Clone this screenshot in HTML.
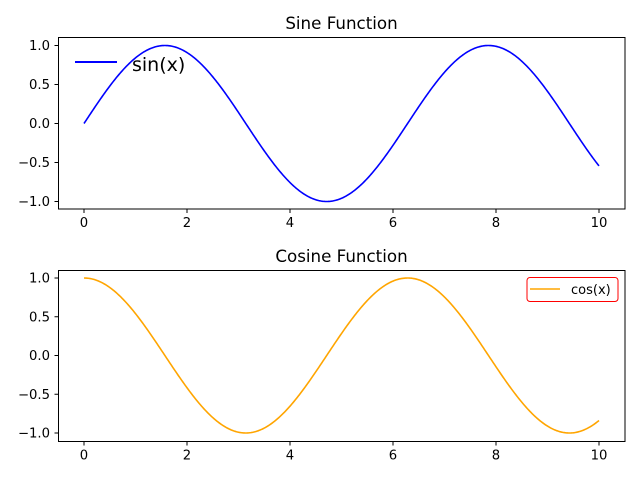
<!DOCTYPE html>
<html><head><style>body{margin:0;background:#fff}svg{display:block}text{font-family:"DejaVu Sans","Liberation Sans",sans-serif;fill:#000}</style></head>
<body>
<svg id="s" width="640" height="480" xmlns="http://www.w3.org/2000/svg">
<rect width="640" height="480" fill="#fff"/>
<text x="341.5" y="29" font-size="16.7" text-anchor="middle">Sine Function</text>
<text x="341.5" y="262" font-size="16.7" text-anchor="middle">Cosine Function</text>
<rect x="58.5" y="37.5" width="566.5" height="171.5" fill="none" stroke="#000" stroke-width="1"/>
<rect x="58.5" y="270.5" width="566.5" height="171" fill="none" stroke="#000" stroke-width="1"/>
<g id="ticks" font-size="13.2"></g>
<path id="p1" fill="none" stroke="#0000ff" stroke-width="1.6"/>
<path id="p2" fill="none" stroke="#ffa500" stroke-width="1.6"/>
<line x1="75" y1="62" x2="117" y2="62" stroke="#0000ff" stroke-width="2"/>
<text x="132" y="71" font-size="19">sin(x)</text>
<rect x="527" y="277.5" width="91" height="24" rx="3" fill="#fff" stroke="#ff0000" stroke-width="1"/>
<line x1="530" y1="289" x2="560" y2="289" stroke="#ffa500" stroke-width="1.6"/>
<text x="571" y="294" font-size="13">cos(x)</text>
</svg>
<script>
var X=function(x){return 84+x*51.5};
var d1="",d2="";
for(var i=0;i<=500;i++){var x=i/50;
d1+=(i?"L":"M")+X(x).toFixed(2)+","+(123.5-78*Math.sin(x)).toFixed(2);
d2+=(i?"L":"M")+X(x).toFixed(2)+","+(355.5-77.5*Math.cos(x)).toFixed(2);}
document.getElementById("p1").setAttribute("d",d1);
document.getElementById("p2").setAttribute("d",d2);
var g=document.getElementById("ticks"),h="";
[[209,123.5,78],[441.5,355.5,77.5]].forEach(function(a){
for(var t=0;t<=10;t+=2){var x=X(t);h+='<line x1="'+x+'" y1="'+a[0]+'" x2="'+x+'" y2="'+(a[0]+4)+'" stroke="#000"/><text x="'+x+'" y="'+(a[0]+18)+'" text-anchor="middle">'+t+'</text>';}
[1,0.5,0,-0.5,-1].forEach(function(v){var y=a[1]-v*a[2];h+='<line x1="54.5" y1="'+y+'" x2="58.5" y2="'+y+'" stroke="#000"/><text x="50" y="'+(y+4.5)+'" text-anchor="end">'+(v<0?"\u2212":"")+Math.abs(v).toFixed(1)+'</text>';});
});
g.innerHTML=h;
</script>
</body></html>
